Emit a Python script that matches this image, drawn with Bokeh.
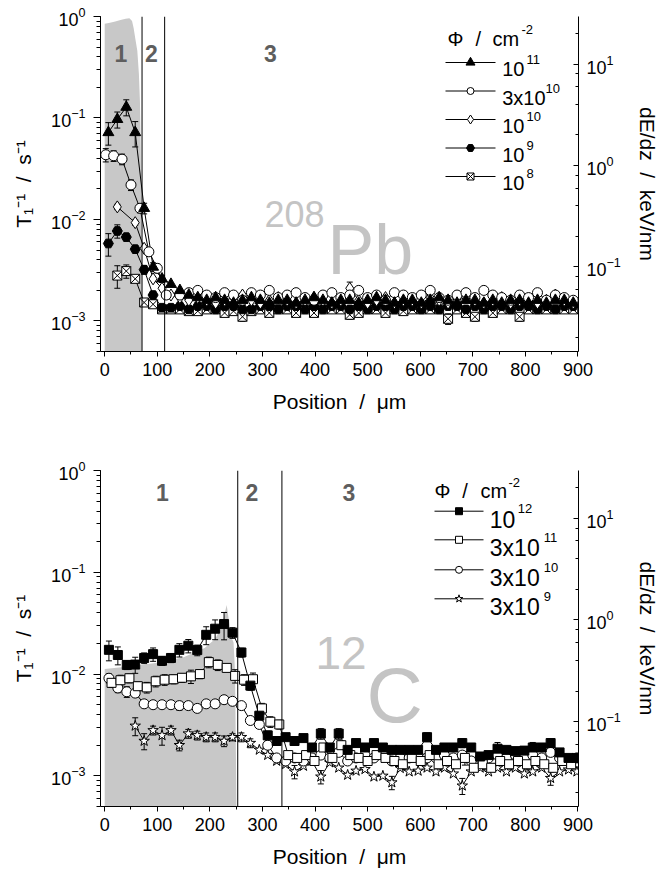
from bokeh.plotting import figure
from bokeh.layouts import column
from bokeh.models import Range1d, LinearScale, LogScale, LogAxis, SingleIntervalTicker, LogTicker, Span
from bokeh.core.properties import value
from bokeh.embed import file_html
from bokeh.resources import INLINE

FONT = "Liberation Sans"
SP = "\u00a0\u00a0"

# ---------------- top panel (208Pb) ----------------
top_pos = [7, 24, 41, 58, 75, 92, 109, 126, 143, 160, 177, 194, 211, 228, 245, 262, 279, 296, 313, 330,
           347, 364, 381, 398, 415, 432, 449, 466, 483, 500, 517, 534, 551, 568, 585, 602, 619, 636, 653, 670,
           687, 704, 721, 738, 755, 772, 789, 806, 823, 840, 857, 874, 891]
pb_tri = [0.072, 0.097, 0.128, 0.072, 0.0129, 0.0034, 0.0026, 0.0023, 0.0020, 0.0018,
          0.0017, 0.0016, 0.0017, 0.0016, 0.0015, 0.0016, 0.0017, 0.0016, 0.0015, 0.0016,
          0.0016, 0.0015, 0.0016, 0.0017, 0.0016, 0.0015, 0.0016, 0.0016, 0.0015, 0.0016,
          0.0017, 0.0016, 0.0015, 0.0016, 0.0016, 0.0015, 0.0016, 0.0017, 0.0016, 0.0015,
          0.0016, 0.0016, 0.0015, 0.0016, 0.0015, 0.0016, 0.0016, 0.0015, 0.0016, 0.0015,
          0.0016, 0.0016, 0.0015]
pb_tri_err = {0: 25, 1: 18, 2: 18, 3: 28, 4: 12, 5: 10, 6: 8}
pb_circ_pos = [2, 17, 33, 50, 67, 84, 100, 117] + top_pos[8:]
pb_circ = [0.0434, 0.0424, 0.0393, 0.0219, 0.0129, 0.0048, 0.0033, 0.0018, 0.0018, 0.0019,
           0.0020, 0.0018, 0.0017, 0.0019, 0.0018, 0.0016, 0.0019, 0.0018, 0.0020, 0.0017,
           0.0018, 0.0019, 0.0017, 0.0016, 0.0018, 0.0019, 0.0017, 0.0018, 0.0020, 0.0017,
           0.0018, 0.0016, 0.0019, 0.0018, 0.0017, 0.0018, 0.0020, 0.0017, 0.0016, 0.0018,
           0.0019, 0.0017, 0.0020, 0.0018, 0.0017, 0.0016, 0.0018, 0.0017, 0.0019, 0.0016,
           0.0018, 0.0017, 0.0016]
pb_circ_err = {0: 15, 1: 12, 2: 12, 3: 12, 4: 10, 5: 8, 6: 10, 15: 10, 27: 8}
pb_dia_pos = [24] + top_pos[3:]
pb_dia = [0.0133, 0.0093, 0.0052, 0.0026, 0.0021, 0.0018, 0.0017,
          0.0016, 0.0017, 0.0016, 0.0015, 0.0016, 0.0017, 0.0018, 0.0016, 0.0015, 0.0016,
          0.0017, 0.0016, 0.0015, 0.0016, 0.0017, 0.0016, 0.0015, 0.0016, 0.0021, 0.0016,
          0.0015, 0.0016, 0.0017, 0.0015, 0.0016, 0.0016, 0.0015, 0.0017, 0.0016, 0.0015,
          0.0016, 0.0017, 0.0016, 0.0015, 0.0016, 0.0017, 0.0015, 0.0016, 0.0016, 0.0015,
          0.0016, 0.0018, 0.0016, 0.0015]
pb_dia_err = {0: 6, 1: 6, 25: 15}
pb_pent = [0.0058, 0.0077, 0.0067, 0.0051, 0.0032, 0.0018, 0.00135, 0.00135,
           0.0014, 0.0013, 0.0014, 0.0014, 0.0013, 0.0014, 0.0014, 0.0013, 0.0013, 0.0014,
           0.0014, 0.0013, 0.0014, 0.0014, 0.0013, 0.0014, 0.0013, 0.0014, 0.0014, 0.0013,
           0.0014, 0.0013, 0.0014, 0.0014, 0.0013, 0.0014, 0.0014, 0.0013, 0.0014, 0.0013,
           0.0014, 0.0014, 0.0013, 0.0014, 0.0013, 0.0014, 0.0014, 0.0013, 0.0014, 0.0014,
           0.0013, 0.0014, 0.0013, 0.0014, 0.0014]
pb_pent_err = {0: 25, 1: 15, 2: 8, 3: 8, 4: 10, 5: 8}
pb_xsq_pos = top_pos[1:]
pb_xsq = [0.0028, 0.0031, 0.0026, 0.00152, 0.00146, 0.0013,
          0.0013, 0.0013, 0.00125, 0.00125, 0.0013, 0.0013, 0.0012, 0.00125, 0.0011, 0.00125,
          0.0013, 0.0012, 0.0013, 0.0013, 0.0012, 0.0013, 0.0012, 0.0013, 0.0013, 0.0013,
          0.00115, 0.0012, 0.0013, 0.0013, 0.0012, 0.0013, 0.00125, 0.0013, 0.0013, 0.0013,
          0.0013, 0.00105, 0.0013, 0.0012, 0.0011, 0.0013, 0.0012, 0.0013, 0.0013, 0.0011,
          0.0013, 0.0013, 0.0013, 0.0013, 0.0013, 0.0013]
pb_xsq_err = {0: 25, 1: 15, 2: 6, 3: 8, 14: 10, 26: 10, 37: 12, 40: 10, 45: 10}
pb_fill_pos = [0, 10, 20, 30, 40, 47, 52, 55, 58, 62, 65, 67, 68.5, 69.5, 70.5, 71]
pb_fill_val = [25, 25.5, 26.3, 27.2, 28, 28.2, 26.5, 22.7, 18, 13.5, 8, 4.3, 1.5, 0.3, 0.05, 0.0147]
pb_bounds = [71, 114]
pb_labels = ["10", "3x10", "10", "10", "10"]
pb_exps = ["11", "10", "10", "9", "8"]

# ---------------- bottom panel (12C) ----------------
bot_pos = [8, 25, 42, 58, 75, 92, 109, 126, 142, 159, 176, 193, 210, 227, 243, 260, 277, 294, 310, 327,
           344, 361, 378, 394, 411, 428, 445, 462, 478, 495, 512, 529, 546, 562, 579, 596, 613, 630, 646, 663,
           680, 697, 714, 730, 747, 764, 781, 798, 814, 831, 848, 865, 882, 898]
c_fsq = [0.0173, 0.0154, 0.0123, 0.0124, 0.0144, 0.0157, 0.0135, 0.0144, 0.0173, 0.0190,
         0.0172, 0.0243, 0.0279, 0.0310, 0.0255, 0.0163, 0.0077, 0.0039, 0.0025, 0.0022,
         0.0024, 0.0022, 0.00235, 0.0019, 0.0026, 0.0019, 0.0026, 0.0018, 0.0021, 0.0019,
         0.0021, 0.0019, 0.0018, 0.0018, 0.0018, 0.0018, 0.0024, 0.0018, 0.0019, 0.0019,
         0.0021, 0.0019, 0.00155, 0.0016, 0.00185, 0.0018, 0.00175, 0.00177, 0.0019, 0.0019,
         0.0021, 0.0017, 0.0015, 0.0015]
c_fsq_err = {0: 22, 1: 20, 2: 10, 3: 18, 4: 12, 5: 15, 6: 10, 7: 10, 8: 15, 9: 15, 10: 12, 11: 20,
             12: 22, 13: 30, 14: 12, 15: 10, 16: 10, 17: 10, 18: 10, 24: 12, 26: 12, 36: 10, 40: 10,
             44: 15, 48: 12, 50: 10}
c_osq_pos = [13, 30, 47, 63, 80, 97, 114, 131, 147, 164, 181, 198, 215, 232, 248, 265, 282, 299, 315, 332,
             349, 366, 383, 399, 416, 433, 450, 467, 483, 500, 517, 534, 551, 567, 584, 601, 618, 635, 651, 668,
             685, 702, 719, 735, 752, 769, 786, 803, 819, 836, 853, 870, 887]
c_osq = [0.0082, 0.0087, 0.0091, 0.0076, 0.0074, 0.0085, 0.0088, 0.0089, 0.0092, 0.0095,
         0.0100, 0.0131, 0.0123, 0.0115, 0.0096, 0.0088, 0.0089, 0.0046, 0.0034, 0.0032,
         0.0016, 0.0015, 0.0016, 0.0014, 0.0019, 0.0015, 0.0020, 0.0016, 0.0015, 0.0014,
         0.0016, 0.0015, 0.0014, 0.0013, 0.0015, 0.0014, 0.0016, 0.0013, 0.0014, 0.0013,
         0.0015, 0.0012, 0.0013, 0.0012, 0.0014, 0.0013, 0.0014, 0.0013, 0.0014, 0.0013,
         0.0012, 0.0014, 0.0013]
c_osq_err = {0: 10, 1: 12, 2: 10, 3: 10, 4: 12, 5: 12, 6: 12, 7: 10, 8: 10, 9: 15, 10: 10, 11: 12,
             12: 12, 13: 8, 14: 15, 15: 12, 16: 15, 17: 12, 18: 12, 19: 10, 26: 10, 33: 12, 40: 15, 47: 12}
c_circ = [0.0091, 0.0073, 0.0067, 0.0065, 0.0051, 0.0050, 0.0050, 0.0050, 0.0049, 0.0049,
          0.0046, 0.0051, 0.0051, 0.0056, 0.0054, 0.0049, 0.0035, 0.0032, 0.0020, 0.0015,
          0.0014, 0.0015, 0.0014, 0.0015, 0.0016, 0.0015, 0.0017, 0.0014, 0.0015, 0.0016,
          0.0015, 0.0016, 0.0014, 0.0015, 0.0015, 0.0016, 0.0015, 0.0015, 0.0016, 0.0015,
          0.0016, 0.0014, 0.0015, 0.0015, 0.0016, 0.0015, 0.0016, 0.0015, 0.0016, 0.0015,
          0.0017, 0.0015, 0.0014, 0.0015]
c_circ_err = {0: 10, 1: 10, 2: 12, 3: 5, 4: 5, 5: 6, 6: 6, 7: 6, 8: 10, 9: 5, 10: 5, 11: 8, 12: 6,
              13: 5, 14: 5, 15: 5, 16: 6, 17: 6, 29: 8}
c_star_pos = bot_pos[3:]
c_star = [0.0031, 0.0022, 0.0028, 0.0025, 0.0028, 0.0020, 0.0026,
          0.0025, 0.0024, 0.0024, 0.0022, 0.0024, 0.0024, 0.0021, 0.0018, 0.0016, 0.0014,
          0.0013, 0.0011, 0.00125, 0.0014, 0.00098, 0.00135, 0.0012, 0.00102, 0.00112, 0.00116,
          0.00098, 0.0010, 0.00086, 0.00119, 0.0011, 0.00112, 0.0012, 0.0011, 0.0012, 0.00105,
          0.0008, 0.0011, 0.0012, 0.0011, 0.0012, 0.0011, 0.0012, 0.00105, 0.0011, 0.0012,
          0.00095, 0.0011, 0.00115, 0.0011]
c_star_err = {0: 20, 1: 18, 2: 10, 3: 20, 4: 10, 5: 12, 6: 10, 7: 10, 8: 10, 9: 10, 10: 12, 11: 8,
              12: 10, 13: 10, 18: 15, 21: 15, 29: 15, 37: 18, 47: 15}
c_fill_pos = [0, 50, 100, 150, 190, 210, 222, 228, 232, 236, 240, 245, 248, 249.5, 250.5]
c_fill_val = [0.33, 0.35, 0.38, 0.43, 0.53, 0.65, 0.85, 1.15, 1.4, 1.0, 0.7, 0.6, 0.3, 0.05, 0.0147]
c_bounds = [253, 337]
c_labels = ["10", "3x10", "3x10", "3x10"]
c_exps = ["12", "11", "10", "9"]


def style_axis(ax, mo, mi, no, ni):
    ax.axis_line_color = "black"
    ax.major_tick_line_color = "black"
    ax.minor_tick_line_color = "black"
    ax.major_tick_out = mo
    ax.major_tick_in = mi
    ax.minor_tick_out = no
    ax.minor_tick_in = ni
    ax.major_label_text_font = FONT
    ax.major_label_text_font_size = "18px"
    ax.major_label_text_color = "black"
    ax.axis_label_text_font = FONT
    ax.axis_label_text_font_size = "21px"
    ax.axis_label_text_font_style = "normal"
    ax.axis_label_text_color = "black"


def add_text(p, x, y, txt, size, color="black", bold=False, align="left"):
    p.text(x=[x], y=[y], text=[txt], x_range_name="px", y_range_name="px",
           text_font=value(FONT), text_font_size=value(f"{size}px"), text_color=color,
           text_align=align, text_baseline="alphabetic",
           text_font_style="bold" if bold else "normal")


def make_panel(height, btop, bbot, frame_h, fill_pos, fill_val, bounds, series):
    p = figure(width=661, height=height, x_range=Range1d(-8, 901), y_range=Range1d(5e-4, 1.0),
               y_axis_type="log", output_backend="svg", toolbar_location=None,
               min_border_left=100, min_border_right=83, min_border_top=btop, min_border_bottom=bbot)
    p.extra_x_ranges = {"px": Range1d(0, 478)}
    p.extra_x_scales = {"px": LinearScale()}
    p.extra_y_ranges = {"dedz": Range1d(0.0147, 29.4), "px": Range1d(frame_h, 0)}
    p.extra_y_scales = {"dedz": LogScale(), "px": LinearScale()}
    p.outline_line_color = None
    p.xgrid.visible = False
    p.ygrid.visible = False
    p.background_fill_color = "white"
    p.border_fill_color = "white"

    p.xaxis.ticker = SingleIntervalTicker(interval=100, num_minor_ticks=2)
    p.xaxis.axis_label = "Position" + SP + "/" + SP + "\u03bcm"
    style_axis(p.xaxis[0], 5, 0, 3, 0)
    p.xaxis.major_label_standoff = 6
    p.xaxis.axis_label_standoff = 11
    p.yaxis.axis_label = "T\u2081\u207b\u00b9" + SP + "/" + SP + "s\u207b\u00b9"
    style_axis(p.yaxis[0], 7, 0, 4, 0)
    p.yaxis.major_label_standoff = 8
    p.yaxis.axis_label_standoff = 13

    ra = LogAxis(y_range_name="dedz", ticker=LogTicker(),
                 axis_label="dE/dz" + SP + "/" + SP + "keV/nm")
    style_axis(ra, 0, 5, 0, 3)
    ra.major_label_standoff = 8
    ra.axis_label_standoff = 12
    p.add_layout(ra, "right")

    p.varea(x=fill_pos, y1=[0.0147] * len(fill_pos), y2=fill_val, y_range_name="dedz",
            fill_color="#c8c8c8", fill_alpha=1.0)
    for b in bounds:
        p.add_layout(Span(location=b, dimension="height", line_color="black", line_width=1))

    for s in series:
        xs, ys = s["x"], s["y"]
        ex, lo, hi = [], [], []
        for i, pct in s["err"].items():
            ex.append(xs[i])
            lo.append(ys[i] * (1 - pct / 100))
            hi.append(ys[i] * (1 + pct / 100))
        p.segment(x0=ex, y0=lo, x1=ex, y1=hi, line_color="black", line_width=1)
        p.scatter(x=ex + ex, y=lo + hi, marker="dash", size=6, line_color="black", line_width=1)
        p.line(x=xs, y=ys, line_color="black", line_width=1)
    for s in series:
        p.scatter(x=s["x"], y=s["y"], marker=s["marker"], size=s["size"], fill_color=s["fill"],
                  line_color="black", line_width=1)
    return p


top_series = [
    dict(x=pb_xsq_pos, y=pb_xsq, err=pb_xsq_err, marker="square_x", fill="white", size=9),
    dict(x=top_pos, y=pb_pent, err=pb_pent_err, marker="hex", fill="black", size=10),
    dict(x=pb_dia_pos, y=pb_dia, err=pb_dia_err, marker="diamond", fill="white", size=12),
    dict(x=pb_circ_pos, y=pb_circ, err=pb_circ_err, marker="circle", fill="white", size=10),
    dict(x=top_pos, y=pb_tri, err=pb_tri_err, marker="triangle", fill="black", size=11),
]
p1 = make_panel(420, 16, 69, 335, pb_fill_pos, pb_fill_val, pb_bounds, top_series)

# region numbers and isotope label (frame pixel coordinates)
for xx, t in [(20.5, "1"), (51, "2"), (170, "3")]:
    add_text(p1, xx, 37, t, 23, "#5e5e5e", bold=True, align="center")
add_text(p1, 164, 197, "208", 36, "#c4c4c4")
add_text(p1, 227, 233, "Pb", 70, "#c4c4c4")
# legend
add_text(p1, 347, 22, "\u03a6", 20)
add_text(p1, 375, 22, "/", 20)
add_text(p1, 392, 22, "cm", 20)
add_text(p1, 421, 13, "-2", 13)
leg_top = [("triangle", "black", 9), ("circle", "white", 7), ("diamond", "white", 9),
           ("hex", "black", 8), ("square_x", "white", 7)]
rows_top = [46, 74.5, 103, 131.5, 160]
exp_x_top = [426, 445, 426, 426, 426]
for (mk, fc, sz), ry, lab, ex, exx in zip(leg_top, rows_top, pb_labels, pb_exps, exp_x_top):
    p1.line(x=[345, 395], y=[ry, ry], x_range_name="px", y_range_name="px", line_color="black", line_width=1)
    p1.scatter(x=[370], y=[ry], marker=mk, size=sz, fill_color=fc, line_color="black",
               x_range_name="px", y_range_name="px")
    add_text(p1, 401.7, ry + 6.5, lab, 20)
    add_text(p1, exx, ry - 3, ex, 13)

bot_series = [
    dict(x=c_star_pos, y=c_star, err=c_star_err, marker="star", fill="white", size=11),
    dict(x=bot_pos, y=c_circ, err=c_circ_err, marker="circle", fill="white", size=10),
    dict(x=c_osq_pos, y=c_osq, err=c_osq_err, marker="square", fill="white", size=9),
    dict(x=bot_pos, y=c_fsq, err=c_fsq_err, marker="square", fill="black", size=9),
]
p2 = make_panel(450, 50, 64, 336, c_fill_pos, c_fill_val, c_bounds, bot_series)
for xx, t in [(62, "1"), (151.5, "2"), (248.5, "3")]:
    add_text(p2, xx, 22, t, 23, "#5e5e5e", bold=True, align="center")
add_text(p2, 215, 182, "12", 46, "#c4c4c4")
add_text(p2, 266, 224, "C", 78, "#c4c4c4")
add_text(p2, 334, 20, "\u03a6", 20)
add_text(p2, 361.7, 20, "/", 20)
add_text(p2, 380, 20, "cm", 20)
add_text(p2, 408, 12, "-2", 13)
leg_bot = [("square", "black", 7), ("square", "white", 7), ("circle", "white", 7), ("star", "white", 8)]
rows_bot = [40.7, 69.3, 99.3, 128.3]
exp_x_bot = [417.3, 443.3, 443.3, 443.3]
for (mk, fc, sz), ry, lab, ex, exx in zip(leg_bot, rows_bot, c_labels, c_exps, exp_x_bot):
    p2.line(x=[334, 383], y=[ry, ry], x_range_name="px", y_range_name="px", line_color="black", line_width=1)
    p2.scatter(x=[358.5], y=[ry], marker=mk, size=sz, fill_color=fc, line_color="black",
               x_range_name="px", y_range_name="px")
    add_text(p2, 389.3, ry + 8.6, lab, 23)
    add_text(p2, exx, ry - 2.5, ex, 13)

layout = column(p1, p2)
open("out.html", "w").write(file_html(layout, INLINE))
